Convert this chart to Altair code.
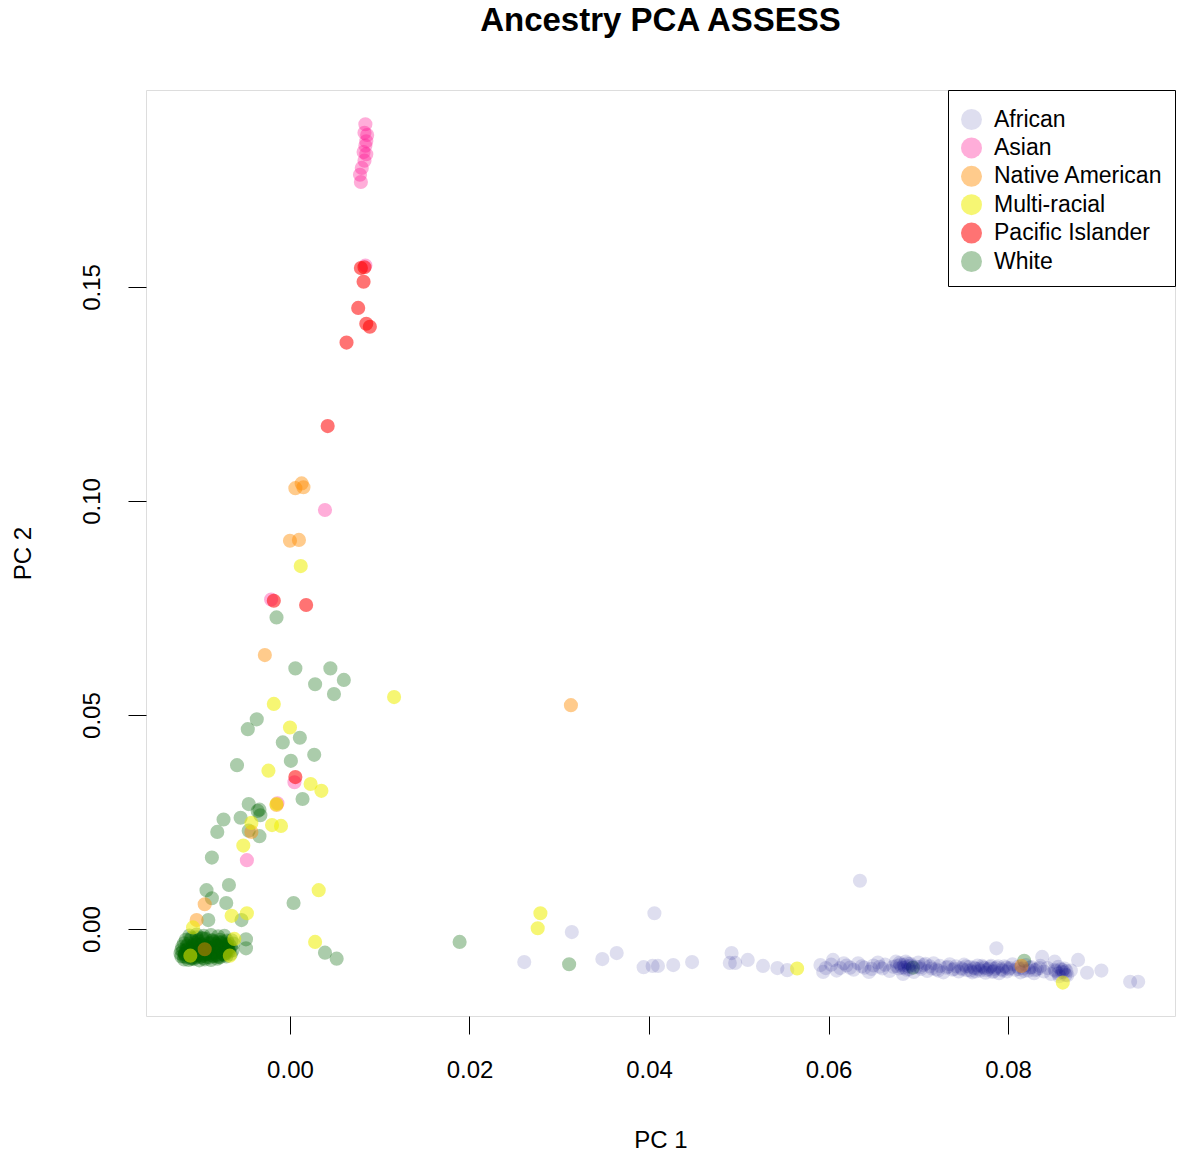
import altair as alt
import pandas as pd

groups = ["African", "Asian", "Native American", "Multi-racial", "Pacific Islander", "White"]
colors = ["rgba(0,0,128,0.13)", "rgba(255,20,147,0.35)", "rgba(255,140,0,0.45)",
          "rgba(238,238,0,0.55)", "rgba(255,0,0,0.55)", "rgba(0,100,0,0.33)"]

white_x = [-0.0015, 0.0006, 0.0045, 0.0028, 0.0060, 0.0049, -0.0037, -0.0047, -0.0008, 0.0011,
           0.0001, 0.0027, -0.0059, 0.0014, -0.0046, -0.0036, -0.0034, -0.0033, -0.0055, -0.0074,
           -0.0081, -0.0046, -0.0034, -0.0087, -0.0093, -0.0068, -0.0087, -0.0071, -0.0091, -0.0054,
           0.0004, -0.0049, -0.0049, 0.0039, 0.0052, 0.0189, 0.0311, 0.0694, 0.0818,
           -0.0112, -0.0104, -0.0096, -0.0088, -0.0080, -0.0073,
           -0.0116, -0.0110, -0.0102, -0.0094, -0.0086, -0.0078, -0.0070, -0.0065,
           -0.0118, -0.0113, -0.0106, -0.0099, -0.0091, -0.0083, -0.0076, -0.0068, -0.0063,
           -0.0120, -0.0115, -0.0108, -0.0101, -0.0094, -0.0087, -0.0080, -0.0073, -0.0066,
           -0.0121, -0.0116, -0.0110, -0.0104, -0.0098, -0.0091, -0.0084, -0.0077, -0.0070, -0.0064,
           -0.0122, -0.0117, -0.0112, -0.0106, -0.0100, -0.0093, -0.0086, -0.0079, -0.0072, -0.0066,
           -0.0121, -0.0116, -0.0111, -0.0105, -0.0099, -0.0092, -0.0085, -0.0078, -0.0071,
           -0.0118, -0.0113, -0.0107, -0.0101, -0.0095, -0.0088, -0.0081,
           -0.0117, -0.0113, -0.0109, -0.0107, -0.0103, -0.0099, -0.0096, -0.0092, -0.0089, -0.0085,
           -0.0082, -0.0078, -0.0075, -0.0072, -0.0069,
           -0.0119, -0.0114, -0.0111, -0.0108, -0.0105, -0.0102, -0.0100, -0.0097, -0.0095, -0.0093,
           -0.0090, -0.0088, -0.0086, -0.0083, -0.0081, -0.0079, -0.0076, -0.0074, -0.0071, -0.0068,
           -0.0118, -0.0115, -0.0112, -0.0109, -0.0106, -0.0103, -0.0100, -0.0098, -0.0096, -0.0093,
           -0.0091, -0.0089, -0.0087, -0.0084, -0.0082, -0.0080, -0.0077, -0.0075, -0.0073, -0.0070,
           -0.0117, -0.0114, -0.0110, -0.0107, -0.0104, -0.0101, -0.0098, -0.0095, -0.0092, -0.0089,
           -0.0086, -0.0083, -0.0080, -0.0077, -0.0074, -0.0071, -0.0068, -0.0110, -0.0104, -0.0097]
white_y = [0.0728, 0.0609, 0.0609, 0.0572, 0.0582, 0.0549, 0.0490, 0.0467, 0.0436, 0.0447,
           0.0393, 0.0407, 0.0383, 0.0304, 0.0292, 0.0276, 0.0279, 0.0266, 0.0260, 0.0256,
           0.0227, 0.0230, 0.0217, 0.0167, 0.0091, 0.0103, 0.0072, 0.0061, 0.0021, 0.0021,
           0.0061, -0.0024, -0.0045, -0.0055, -0.0069, -0.0030, -0.0082, -0.0090, -0.0074,
           -0.0015, -0.0013, -0.0016, -0.0014, -0.0017, -0.0016,
           -0.0025, -0.0024, -0.0026, -0.0023, -0.0026, -0.0025, -0.0027, -0.0026,
           -0.0033, -0.0034, -0.0032, -0.0035, -0.0033, -0.0034, -0.0032, -0.0035, -0.0034,
           -0.0041, -0.0042, -0.0040, -0.0043, -0.0041, -0.0042, -0.0040, -0.0043, -0.0041,
           -0.0049, -0.0050, -0.0048, -0.0051, -0.0049, -0.0050, -0.0048, -0.0051, -0.0049, -0.0050,
           -0.0057, -0.0058, -0.0056, -0.0059, -0.0057, -0.0058, -0.0056, -0.0059, -0.0057, -0.0058,
           -0.0064, -0.0065, -0.0063, -0.0066, -0.0064, -0.0065, -0.0063, -0.0066, -0.0064,
           -0.0071, -0.0072, -0.0070, -0.0073, -0.0071, -0.0072, -0.0069,
           -0.0060, -0.0052, -0.0066, -0.0045, -0.0058, -0.0036, -0.0062, -0.0044, -0.0055, -0.0030,
           -0.0061, -0.0047, -0.0035, -0.0052, -0.0044,
           -0.0052, -0.0046, -0.0060, -0.0038, -0.0054, -0.0029, -0.0065, -0.0047, -0.0039, -0.0058,
           -0.0050, -0.0033, -0.0062, -0.0045, -0.0054, -0.0031, -0.0049, -0.0058, -0.0040, -0.0053,
           -0.0064, -0.0039, -0.0055, -0.0068, -0.0044, -0.0061, -0.0051, -0.0022, -0.0068, -0.0053,
           -0.0043, -0.0060, -0.0027, -0.0056, -0.0037, -0.0065, -0.0045, -0.0029, -0.0061, -0.0038,
           -0.0058, -0.0048, -0.0069, -0.0055, -0.0036, -0.0061, -0.0049, -0.0057, -0.0044, -0.0066,
           -0.0052, -0.0040, -0.0063, -0.0047, -0.0058, -0.0036, -0.0049, -0.0020, -0.0019, -0.0021]

african_x = [0.0261, 0.0314, 0.0348, 0.0364, 0.0394, 0.0404, 0.0410, 0.0427, 0.0448, 0.0406,
             0.0492, 0.0490, 0.0496, 0.0510, 0.0527, 0.0543, 0.0554, 0.0591, 0.0594, 0.0605,
             0.0613, 0.0635, 0.0787, 0.0936, 0.0945, 0.0904, 0.0888, 0.0878, 0.0861, 0.0864,
             0.0852, 0.0838,
             0.0620, 0.0628, 0.0633, 0.0640, 0.0645, 0.0650, 0.0655, 0.0660, 0.0663, 0.0668,
             0.0672, 0.0675, 0.0678, 0.0680, 0.0683, 0.0685, 0.0688, 0.0690, 0.0692, 0.0695,
             0.0698, 0.0700, 0.0703, 0.0706, 0.0710, 0.0713, 0.0717, 0.0720, 0.0724, 0.0728,
             0.0731, 0.0735, 0.0738, 0.0742, 0.0745, 0.0748, 0.0751, 0.0754, 0.0757, 0.0760,
             0.0763, 0.0766, 0.0769, 0.0772, 0.0775, 0.0778, 0.0781, 0.0784, 0.0787, 0.0790,
             0.0793, 0.0796, 0.0799, 0.0802, 0.0805, 0.0808, 0.0811, 0.0814, 0.0817, 0.0820,
             0.0823, 0.0826, 0.0829, 0.0832, 0.0836, 0.0840, 0.0844, 0.0848, 0.0852, 0.0856,
             0.0860, 0.0863, 0.0866, 0.0870,
             0.0676, 0.0679, 0.0682, 0.0684, 0.0687, 0.0689, 0.0691, 0.0686,
             0.0749, 0.0753, 0.0758, 0.0762, 0.0767, 0.0771, 0.0776, 0.0780, 0.0785, 0.0789,
             0.0794, 0.0798, 0.0801, 0.0764, 0.0774, 0.0783,
             0.0853, 0.0856, 0.0859, 0.0862, 0.0857, 0.0865,
             0.0597, 0.0603, 0.0609, 0.0617, 0.0624, 0.0637, 0.0648, 0.0657,
             0.0702, 0.0708, 0.0715, 0.0722, 0.0733, 0.0740,
             0.0812, 0.0818, 0.0824, 0.0830, 0.0835]
african_y = [-0.0077, -0.0007, -0.0070, -0.0056, -0.0089, -0.0086, -0.0086, -0.0084, -0.0077, 0.0037,
             -0.0056, -0.0079, -0.0079, -0.0072, -0.0086, -0.0091, -0.0096, -0.0084, -0.0100, -0.0072,
             -0.0091, 0.0113, -0.0045, -0.0123, -0.0123, -0.0097, -0.0102, -0.0072, -0.0096, -0.0107,
             -0.0076, -0.0065,
             -0.0085, -0.0095, -0.0080, -0.0090, -0.0100, -0.0085, -0.0078, -0.0092, -0.0083, -0.0098,
             -0.0088, -0.0076, -0.0092, -0.0083, -0.0105, -0.0090, -0.0080, -0.0094, -0.0085, -0.0100,
             -0.0088, -0.0078, -0.0093, -0.0084, -0.0098, -0.0087, -0.0080, -0.0094, -0.0086, -0.0101,
             -0.0090, -0.0082, -0.0095, -0.0087, -0.0099, -0.0091, -0.0083, -0.0096, -0.0088, -0.0101,
             -0.0092, -0.0085, -0.0097, -0.0089, -0.0102, -0.0093, -0.0086, -0.0098, -0.0090, -0.0103,
             -0.0094, -0.0087, -0.0099, -0.0091, -0.0082, -0.0095, -0.0088, -0.0101, -0.0092, -0.0084,
             -0.0097, -0.0089, -0.0103, -0.0094, -0.0086, -0.0099, -0.0091, -0.0105, -0.0095, -0.0088,
             -0.0100, -0.0092, -0.0108, -0.0097,
             -0.0086, -0.0079, -0.0090, -0.0084, -0.0095, -0.0087, -0.0081, -0.0076,
             -0.0094, -0.0087, -0.0097, -0.0090, -0.0093, -0.0086, -0.0096, -0.0089, -0.0093, -0.0087,
             -0.0097, -0.0090, -0.0094, -0.0099, -0.0091, -0.0100,
             -0.0098, -0.0104, -0.0094, -0.0101, -0.0110, -0.0098,
             -0.0091, -0.0083, -0.0097, -0.0080, -0.0090, -0.0087, -0.0093, -0.0088,
             -0.0089, -0.0081, -0.0092, -0.0097, -0.0088, -0.0093,
             -0.0093, -0.0098, -0.0090, -0.0096, -0.0091]

asian_x = [0.0084, 0.0083, 0.0085, 0.0084, 0.0082, 0.0085, 0.0083, 0.0080, 0.0078, 0.0079,
           0.0086, 0.0084, 0.0039, -0.0021, 0.0005, -0.0048, -0.0014]
asian_y = [0.1880, 0.1860, 0.1840, 0.1830, 0.1815, 0.1810, 0.1795, 0.1778, 0.1762, 0.1745,
           0.1855, 0.1550, 0.0979, 0.0770, 0.0343, 0.0161, 0.0294]

native_x = [0.0006, 0.0013, 0.0015, 0.0000, 0.0010, -0.0028, 0.0313, -0.0095, -0.0104, -0.0095,
            -0.0015, -0.0043, 0.0815]
native_y = [0.1030, 0.1041, 0.1032, 0.0907, 0.0909, 0.0640, 0.0523, 0.0058, 0.0021, -0.0047,
            0.0290, 0.0227, -0.0086]

pacific_x = [0.0079, 0.0083, 0.0082, 0.0076, 0.0085, 0.0089, 0.0063, 0.0042, 0.0018, -0.0018, 0.0006]
pacific_y = [0.1544, 0.1546, 0.1512, 0.1451, 0.1414, 0.1407, 0.1370, 0.1175, 0.0757, 0.0767, 0.0355]

multi_x = [0.0012, 0.0116, -0.0018, 0.0000, -0.0024, 0.0023, 0.0035, -0.0015, -0.0020, -0.0010,
           -0.0043, -0.0052, 0.0032, -0.0065, -0.0048, -0.0108, -0.0062, -0.0111, -0.0067, 0.0028,
           0.0279, 0.0276, 0.0565, 0.0861]
multi_y = [0.0848, 0.0542, 0.0526, 0.0471, 0.0370, 0.0339, 0.0323, 0.0292, 0.0243, 0.0241,
           0.0248, 0.0195, 0.0091, 0.0031, 0.0037, 0.0004, -0.0023, -0.0062, -0.0062, -0.0030,
           0.0037, 0.0002, -0.0092, -0.0125]

series = [("White", white_x, white_y), ("African", african_x, african_y),
          ("Asian", asian_x, asian_y), ("Native American", native_x, native_y),
          ("Pacific Islander", pacific_x, pacific_y), ("Multi-racial", multi_x, multi_y)]
rows = []
for name, xs, ys in series:
    for a, b in zip(xs, ys):
        rows.append({"PC1": a, "PC2": b, "group": name})
df = pd.DataFrame(rows)
df["order"] = range(len(df))

FONT = "Liberation Sans"

chart = alt.Chart(df).mark_circle(size=200, opacity=1).encode(
    x=alt.X("PC1:Q", scale=alt.Scale(domain=[-0.01604, 0.0986], nice=False, zero=False),
            axis=alt.Axis(values=[0, 0.02, 0.04, 0.06, 0.08], format=".2f", title="PC 1",
                          grid=False, domain=False, tickSize=18, tickColor="black",
                          labelFontSize=24, labelFont=FONT, labelColor="black",
                          labelBaseline="alphabetic", labelPadding=43,
                          titleFont=FONT, titleFontSize=24, titleFontWeight="normal",
                          titleColor="black", titleBaseline="middle", titleY=124)),
    y=alt.Y("PC2:Q", scale=alt.Scale(domain=[-0.0203, 0.196], nice=False, zero=False),
            axis=alt.Axis(values=[0, 0.05, 0.10, 0.15], format=".2f", title="PC 2",
                          grid=False, domain=False, tickSize=18, tickColor="black",
                          labelFontSize=24, labelFont=FONT, labelColor="black",
                          labelAngle=270, labelAlign="center", labelBaseline="alphabetic",
                          labelPadding=29,
                          titleFont=FONT, titleFontSize=24, titleFontWeight="normal",
                          titleColor="black", titleBaseline="middle", titleX=-123,
                          titleY=463, titleAlign="center")),
    color=alt.Color("group:N", scale=alt.Scale(domain=groups, range=colors),
                    legend=alt.Legend(title=" ", titleFontSize=6, titlePadding=0,
                                      orient="top-right", offset=0,
                                      strokeColor="black", fillColor="white", padding=12,
                                      labelFont=FONT, labelFontSize=23, labelColor="black",
                                      symbolType="circle", symbolSize=441, symbolOpacity=1,
                                      symbolStrokeWidth=0, labelOffset=11, rowPadding=4.4,
                                      labelLimit=400)),
    order=alt.Order("order:Q"),
).properties(
    width=1029, height=926,
    title=alt.Title("Ancestry PCA ASSESS", font=FONT, fontSize=33, fontWeight="bold",
                    color="black", anchor="middle", baseline="alphabetic", offset=26),
    autosize=alt.AutoSizeParams(type="none"),
    padding={"left": 146, "top": 90, "right": 2, "bottom": 140},
).configure_view(stroke="black", strokeWidth=1).configure(background="white")

chart.save("out.html", embed_options={"renderer": "svg", "actions": False})
